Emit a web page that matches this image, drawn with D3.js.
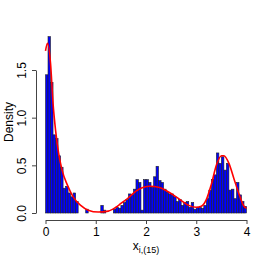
<!DOCTYPE html>
<html>
<head>
<meta charset="utf-8">
<script src="https://cdn.jsdelivr.net/npm/d3@7"></script>
<style>
  body { margin: 0; background: #fff; }
  text { font-family: "Liberation Sans", Arial, sans-serif; }
  .axis path, .axis line { stroke: #444; }
</style>
</head>
<body>
<div class="chart"></div>
<script>
// histogram: 80 bins of width 0.05 over [0, 4]
const binWidth = 0.05;
const density = [
  1.45, 1.85, 1.37, 0.82, 0.78, 0.60, 0.48, 0.26, 0.28, 0.21,
  0.17, 0.21, 0.12, 0.00, 0.00, 0.00, 0.04, 0.00, 0.00, 0.00,
  0.00, 0.00, 0.08, 0.03, 0.00, 0.00, 0.00, 0.04, 0.06, 0.05,
  0.08, 0.11, 0.14, 0.20, 0.19, 0.25, 0.35, 0.32, 0.03, 0.35,
  0.35, 0.32, 0.27, 0.38, 0.49, 0.34, 0.32, 0.25, 0.22, 0.20,
  0.20, 0.17, 0.12, 0.14, 0.08, 0.11, 0.12, 0.06, 0.11, 0.04,
  0.06, 0.06, 0.05, 0.08, 0.15, 0.24, 0.35, 0.40, 0.63, 0.52,
  0.59, 0.45, 0.52, 0.24, 0.25, 0.15, 0.32, 0.19, 0.12, 0.07
];

// density curve
const curveX = [0, 0.04, 0.1, 0.15, 0.2, 0.26, 0.33, 0.43, 0.55, 0.7, 0.85, 1.05, 1.25, 1.4, 1.5,
  1.65, 1.8, 1.95, 2.08, 2.25, 2.45, 2.65, 2.85, 3.0, 3.1, 3.2, 3.3, 3.4, 3.5, 3.55, 3.65, 3.75, 3.85, 3.95, 4.0];
const curveY = [1.70, 1.78, 1.57, 1.15, 0.87, 0.63, 0.45, 0.30, 0.17, 0.08, 0.03, 0.01, 0.02, 0.06, 0.10,
  0.16, 0.23, 0.27, 0.28, 0.27, 0.22, 0.15, 0.08, 0.06, 0.07, 0.14, 0.30, 0.50, 0.60, 0.60, 0.52, 0.36, 0.20, 0.07, 0.05];

const xTicks = [0, 1, 2, 3, 4];
const yTicks = [0, 0.5, 1.0, 1.5];

const width = 258, height = 258;

const svg = d3.select(".chart")
    .append("svg")
    .attr("width", width)
    .attr("height", height);

const xScale = d3.scaleLinear()
    .domain([0, 4])
    .range([45.5, 246.5]);

const yScale = d3.scaleLinear()
    .domain([0, 1.5])
    .range([213, 70]);

const bins = density.map((d, i) => ({x0: i * binWidth, x1: (i + 1) * binWidth, y: d}));

svg.append("g")
    .selectAll("rect")
    .data(bins)
    .join("rect")
    .attr("x", d => xScale(d.x0))
    .attr("y", d => yScale(d.y))
    .attr("width", d => xScale(d.x1) - xScale(d.x0))
    .attr("height", d => yScale(0) - yScale(d.y))
    .attr("fill", "#0000ff")
    .attr("stroke", "#222")
    .attr("stroke-width", 0.6);

const line = d3.line()
    .x(d => xScale(d[0]))
    .y(d => yScale(d[1]))
    .curve(d3.curveMonotoneX);

svg.append("path")
    .datum(d3.zip(curveX, curveY))
    .attr("d", line)
    .attr("fill", "none")
    .attr("stroke", "#ff0000")
    .attr("stroke-width", 1.6);

// axes, R style
const xAxis = d3.axisBottom(xScale)
    .tickValues(xTicks)
    .tickFormat(d3.format("d"))
    .tickSize(4)
    .tickSizeOuter(0)
    .tickPadding(3);

svg.append("g")
    .attr("class", "axis")
    .attr("transform", "translate(0,220)")
    .call(xAxis)
    .call(g => g.selectAll("text").attr("font-size", 12).attr("fill", "#000"));

const yAxis = d3.axisLeft(yScale)
    .tickValues(yTicks)
    .tickFormat(d3.format(".1f"))
    .tickSize(4)
    .tickSizeOuter(0);

// y labels parallel to the axis
svg.append("g")
    .attr("class", "axis")
    .attr("transform", "translate(36,0)")
    .call(yAxis)
    .call(g => g.selectAll(".tick text")
        .attr("font-size", 12)
        .attr("fill", "#000")
        .attr("x", null)
        .attr("y", 0)
        .attr("dy", null)
        .attr("text-anchor", "middle")
        .attr("transform", "translate(-10,0) rotate(-90)"));

svg.append("text")
    .attr("transform", "translate(13,122) rotate(-90)")
    .attr("text-anchor", "middle")
    .attr("font-size", 12)
    .text("Density");

const xlab = svg.append("text")
    .attr("x", 146)
    .attr("y", 250)
    .attr("text-anchor", "middle")
    .attr("font-size", 12);
xlab.append("tspan").text("x");
xlab.append("tspan")
    .attr("font-size", 9)
    .attr("dy", 3)
    .text("i,(15)");
</script>
</body>
</html>
